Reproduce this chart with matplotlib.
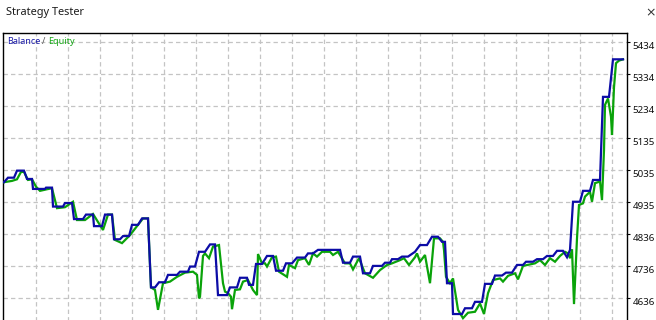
import matplotlib
matplotlib.use("Agg")
import matplotlib.pyplot as plt
import matplotlib.transforms as mtransforms
import numpy as np

# ---- data (time index, account value) ----
balance_t = [4, 8, 14, 17, 24, 27, 32, 33, 45, 46, 52, 53, 63, 65, 72, 74, 83, 86, 93, 94,
             102, 105, 112, 114, 120, 123, 129, 132, 138, 142, 148, 150, 151, 155, 159, 165, 168, 177, 180, 188,
             190, 195, 199, 205, 210, 215, 218, 227, 230, 237, 240, 247, 249, 253, 256, 262, 267, 273, 276, 283,
             286, 292, 297, 305, 308, 313, 318, 340, 343, 350, 353, 360, 363, 370, 373, 382, 385, 390, 392, 398,
             402, 408, 415, 420, 427, 432, 438, 442, 445, 447, 452, 453, 462, 465, 472, 475, 482, 485, 492, 495,
             502, 506, 512, 517, 523, 526, 533, 537, 543, 547, 553, 557, 563, 567, 570, 573, 580, 583, 590, 593,
             600, 603, 609, 613, 623]
balance_v = [4997, 5011, 5011, 5033, 5033, 5007, 5007, 4976, 4976, 4980, 4980, 4921, 4921, 4932, 4932, 4882, 4882, 4896, 4896, 4860,
             4860, 4896, 4896, 4819, 4819, 4829, 4829, 4864, 4864, 4884, 4884, 4739, 4669, 4669, 4685, 4685, 4708, 4708, 4718, 4718,
             4734, 4734, 4780, 4780, 4803, 4803, 4645, 4645, 4669, 4669, 4699, 4699, 4677, 4677, 4742, 4742, 4767, 4767, 4721, 4721,
             4744, 4744, 4762, 4762, 4775, 4775, 4786, 4786, 4746, 4746, 4765, 4765, 4713, 4713, 4736, 4736, 4746, 4746, 4757, 4757,
             4765, 4765, 4780, 4801, 4801, 4827, 4827, 4811, 4811, 4682, 4682, 4586, 4586, 4604, 4604, 4624, 4624, 4680, 4680, 4706,
             4706, 4715, 4715, 4739, 4739, 4749, 4749, 4757, 4757, 4767, 4767, 4783, 4783, 4763, 4786, 4936, 4936, 4970, 4970, 5004,
             5004, 5263, 5263, 5380, 5380]

equity_t = [4, 12, 17, 21, 24, 28, 32, 36, 40, 47, 52, 57, 65, 73, 77, 85, 93, 103, 108, 112,
            115, 122, 130, 137, 143, 148, 151, 155, 158, 163, 170, 177, 185, 193, 197, 199, 200, 203, 205, 209,
            213, 219, 223, 225, 228, 231, 232, 235, 240, 243, 248, 253, 257, 258, 262, 265, 267, 272, 276, 279,
            287, 289, 295, 298, 305, 309, 313, 317, 322, 330, 333, 338, 345, 350, 353, 359, 365, 373, 380, 387,
            392, 400, 404, 409, 415, 417, 420, 425, 430, 434, 440, 443, 444, 446, 450, 453, 458, 463, 468, 475,
            480, 484, 488, 493, 500, 503, 508, 515, 518, 523, 535, 540, 545, 550, 555, 560, 565, 568, 570, 572,
            574, 577, 579, 583, 585, 590, 592, 595, 600, 602, 604, 605, 608, 611, 612, 613, 614, 616, 619, 623]
equity_v = [4997, 5001, 5006, 5029, 5029, 5004, 5006, 4983, 4970, 4975, 4978, 4916, 4919, 4936, 4879, 4879, 4898, 4848, 4896, 4896,
            4817, 4807, 4832, 4860, 4884, 4884, 4669, 4661, 4599, 4682, 4687, 4702, 4715, 4718, 4708, 4635, 4640, 4767, 4775, 4760,
            4796, 4801, 4682, 4656, 4651, 4640, 4601, 4661, 4663, 4687, 4692, 4661, 4645, 4773, 4744, 4744, 4734, 4763, 4765, 4718,
            4702, 4739, 4729, 4754, 4760, 4739, 4775, 4765, 4780, 4780, 4770, 4780, 4744, 4744, 4725, 4760, 4713, 4699, 4723, 4739,
            4744, 4754, 4760, 4739, 4763, 4775, 4749, 4770, 4682, 4822, 4822, 4811, 4786, 4702, 4682, 4697, 4599, 4573, 4590, 4593,
            4619, 4586, 4651, 4692, 4697, 4687, 4705, 4713, 4694, 4736, 4744, 4754, 4739, 4760, 4749, 4767, 4780, 4775, 4760, 4788,
            4617, 4822, 4926, 4931, 4952, 4967, 4936, 4994, 4999, 4941, 5097, 5238, 5258, 5201, 5144, 5217, 5293, 5368, 5376, 5380]

ytick_vals = [4636, 4735.75, 4835.5, 4935.25, 5035, 5134.75, 5234.5, 5334.25, 5434]
ytick_labels = ["4636", "4736", "4836", "4935", "5035", "5135", "5234", "5334", "5434"]

# ---- figure ----
W, H, DPI = 656, 320, 100
fig = plt.figure(figsize=(W / DPI, H / DPI), dpi=DPI, facecolor="white")

left_px, right_px, top_px, bottom_px = 3, 627, 33, 330
ax = fig.add_axes([left_px / W, (H - bottom_px) / H,
                   (right_px - left_px) / W, (bottom_px - top_px) / H])
ax.set_facecolor("white")

ax.plot(equity_t, equity_v, color="#0aa30a", lw=1.6, solid_joinstyle="miter", zorder=3)
ax.plot(balance_t, balance_v, color="#0c0ca6", lw=1.6, solid_joinstyle="miter", zorder=4)

ax.set_xlim(3, 627)
ax.set_ylim(4536.2, 5462.05)

ax.set_xticks(np.arange(36, 613, 32))
ax.set_yticks(ytick_vals)
ax.set_yticklabels(ytick_labels)
ax.grid(True, color="#c4c4c4", linestyle=(0, (3.5, 2.5)), linewidth=0.9, zorder=0)

ax.tick_params(axis="x", length=0, labelbottom=False)
ax.tick_params(axis="y", left=False, labelleft=False, right=True, labelright=True,
               direction="out", length=2.5, width=0.8, pad=1.5, labelsize=7, labelcolor="#101010")
for lab in ax.get_yticklabels():
    lab.set_fontfamily("Noto Sans")
    lab.set_transform(lab.get_transform() + mtransforms.ScaledTranslation(0, -2.5 / 72, fig.dpi_scale_trans))

for s in ["left", "right", "top", "bottom"]:
    ax.spines[s].set_color("black")
    ax.spines[s].set_linewidth(1.0)

# title & close mark
fig.text(6 / W, 1 - 13 / H, "Strategy Tester", fontsize=7.9, family="Noto Sans",
         color="#1a1a1a", va="center", ha="left")
fig.text(645 / W, 1 - 13 / H, "×", fontsize=9, family="DejaVu Sans",
         color="#333333", va="center", ha="left")

# legend text "Balance / Equity"
legend_parts = [("Balance", "#1a1aa8", 7), ("/", "#555555", 42), ("Equity", "#18a818", 48)]
for txt, col, xp in legend_parts:
    fig.text(xp / W, 1 - 41.5 / H, txt, fontsize=6.5, family="Noto Sans", color=col,
             va="center", ha="left")

fig.savefig("out.png", dpi=DPI, facecolor="white")
